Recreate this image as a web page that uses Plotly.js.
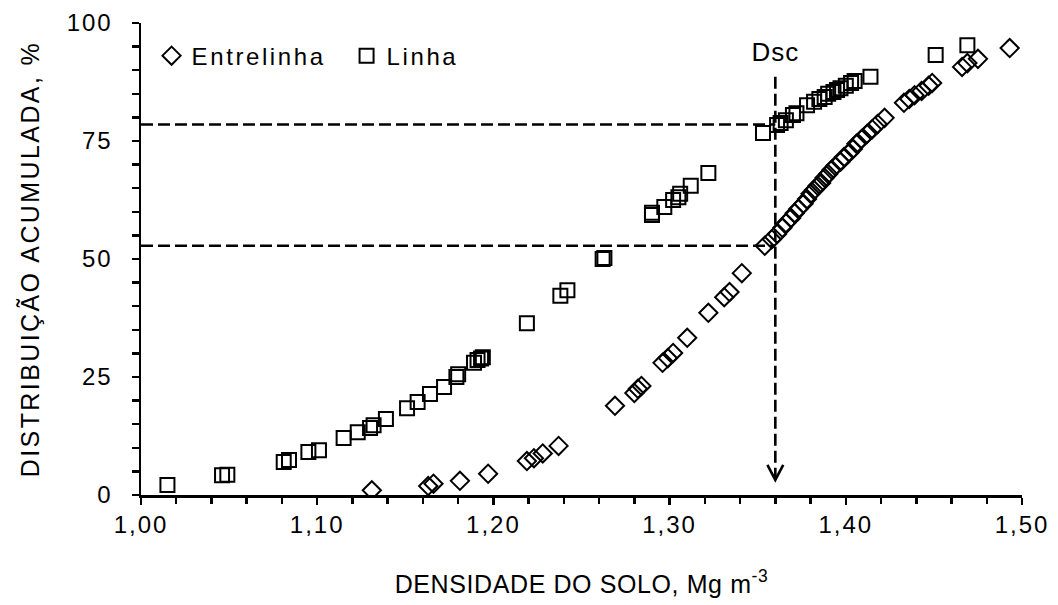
<!DOCTYPE html>
<html><head><meta charset="utf-8">
<script src="https://cdn.plot.ly/plotly-3.0.1.min.js"></script>
<style>
html,body{margin:0;padding:0;background:#fff}
#chart .xtick text, #chart .ytick text {letter-spacing: 2px;}
#chart .legendtext {letter-spacing: 2.6px;}
#chart .g-ytitle text {letter-spacing: 2.4px;}
#chart .g-xtitle text {letter-spacing: 0.6px;}
#chart .annotation-text {letter-spacing: 1px;}
</style>
</head><body><div id="chart" style="width:1058px;height:605px"></div>
<script>
// Entrelinha (diamonds)
const entrelinhaX = [1.131,1.163,1.166,1.181,1.197,1.219,1.223,1.228,1.237,
  1.269,1.280,1.282,1.284,1.296,1.299,1.302,1.310,1.322,1.331,1.334,1.341,
  1.354,1.358,1.361,1.364,1.366,1.369,1.371,1.373,1.376,1.378,1.380,1.382,1.384,1.386,1.388,1.390,1.392,1.394,1.397,1.399,1.402,1.404,1.406,1.409,1.412,1.415,1.418,1.422,
  1.433,1.436,1.439,1.443,1.447,1.449,1.466,1.469,1.475,1.493];
const entrelinhaY = [1.0,1.9,2.4,3.0,4.5,7.2,7.8,8.8,10.4,
  18.9,21.6,22.5,23.1,28.0,29.0,30.1,33.3,38.6,41.9,43.0,47.0,
  52.8,54.2,55.3,56.6,57.6,58.7,59.7,60.6,61.7,62.7,63.8,64.6,65.5,66.1,67.2,68.0,68.9,69.7,70.6,71.6,72.5,73.3,74.4,75.4,76.5,77.5,78.6,79.9,
  83.1,83.9,84.7,85.6,86.7,87.3,90.7,91.5,92.4,94.7];
// Linha (squares)
const linhaX = [1.015,1.046,1.049,1.081,1.084,1.095,1.101,1.115,1.123,1.130,1.132,1.139,1.151,1.157,1.164,1.172,1.179,1.180,1.189,1.191,1.193,1.194,
  1.219,1.238,1.242,1.262,1.263,1.290,1.290,1.297,1.302,1.305,1.306,1.312,1.322,
  1.353,1.361,1.363,1.366,1.370,1.372,1.378,1.382,1.385,1.388,1.390,1.393,1.395,1.397,1.400,1.403,1.405,1.414,1.451,1.469];
const linhaY = [2.1,4.2,4.3,7.0,7.4,9.1,9.5,12.1,13.3,14.2,14.8,16.1,18.4,19.7,21.4,22.9,25.0,25.6,28.0,28.6,28.9,29.2,
  36.4,42.2,43.4,50.0,50.2,59.3,59.8,61.0,62.5,63.1,63.8,65.5,68.2,
  76.7,78.4,78.8,79.4,80.5,80.9,82.6,83.3,83.9,84.3,85.0,85.4,85.8,86.2,86.7,87.3,87.7,88.6,93.2,95.3];

const xTickVals = [1.0,1.1,1.2,1.3,1.4,1.5];
const xTickText = ["1,00","1,10","1,20","1,30","1,40","1,50"];
const yTickVals = [0,25,50,75,100];

// Reference lines (Dsc)
const dscX = 1.36;
const dscLinhaY = 78.5;
const dscEntreY = 52.8;
const dscTopY = 88.6;
const arrowTipY = 3.2;
const arrowArmDY = 3.2;
const arrowArmDX = 0.0045;
const dscLabelY = 93.9;
const xMin = 1.0;

const font = "Liberation Sans, Arial, sans-serif";
const dashLine = {color:"#000", width:2.6, dash:"12px,5px"};

const traces = [
  {x: entrelinhaX, y: entrelinhaY, name: "Entrelinha", type: "scatter", mode: "markers",
   marker: {symbol: "diamond-open", size: 14, color: "#000", line: {width: 2, color: "#000"}}},
  {x: linhaX, y: linhaY, name: "Linha", type: "scatter", mode: "markers",
   marker: {symbol: "square-open", size: 14, color: "#000", line: {width: 2, color: "#000"}}}
];

const layout = {
  width: 1058, height: 605,
  margin: {l: 141, r: 36, t: 23, b: 110},
  paper_bgcolor: "#fff", plot_bgcolor: "#fff",
  font: {family: font, size: 24, color: "#000"},
  separators: ",.",
  showlegend: true,
  legend: {orientation: "h", x: 0.012, xanchor: "left", y: 0.93, yanchor: "middle",
           font: {family: font, size: 24, color: "#000"}, bgcolor: "rgba(0,0,0,0)",
           itemwidth: 30, tracegroupgap: 0, entrywidth: 150, entrywidthmode: "pixels"},
  xaxis: {range: [1.0, 1.5], tickvals: xTickVals, ticktext: xTickText,
          showgrid: false, zeroline: false, showline: true, linecolor: "#000", linewidth: 2.5,
          ticks: "outside", ticklen: 7, tickwidth: 2.5, tickcolor: "#000",
          minor: {dtick: 0.02, tick0: 1.0, ticks: "outside", ticklen: 6, tickwidth: 2.5, tickcolor: "#000", showgrid: false},
          tickfont: {family: font, size: 24, color: "#000"},
          title: {text: "DENSIDADE DO SOLO, Mg m<sup>-3</sup>", font: {family: font, size: 25, color: "#000"}, standoff: 38}},
  yaxis: {range: [0, 100], tickvals: yTickVals,
          showgrid: false, zeroline: false, showline: true, linecolor: "#000", linewidth: 2.5,
          ticks: "outside", ticklen: 7, tickwidth: 2.5, tickcolor: "#000", ticklabelstandoff: 14,
          minor: {dtick: 5, tick0: 0, ticks: "outside", ticklen: 7, tickwidth: 2.5, tickcolor: "#000", showgrid: false},
          tickfont: {family: font, size: 24, color: "#000"},
          title: {text: "DISTRIBUIÇÃO ACUMULADA, %", font: {family: font, size: 25, color: "#000"}, standoff: 26}},
  shapes: [
    {type: "line", xref: "x", yref: "y", x0: xMin, x1: dscX, y0: dscLinhaY, y1: dscLinhaY, line: dashLine},
    {type: "line", xref: "x", yref: "y", x0: xMin, x1: dscX, y0: dscEntreY, y1: dscEntreY, line: dashLine},
    {type: "line", xref: "x", yref: "y", x0: dscX, x1: dscX, y0: dscTopY, y1: arrowTipY, line: dashLine},
    {type: "path", xref: "x", yref: "y",
     path: `M ${dscX - arrowArmDX},${arrowTipY + arrowArmDY} L ${dscX},${arrowTipY} L ${dscX + arrowArmDX},${arrowTipY + arrowArmDY}`,
     line: {color: "#000", width: 2.6}}
  ],
  annotations: [
    {x: dscX, y: dscLabelY, xref: "x", yref: "y", text: "Dsc", showarrow: false,
     font: {family: font, size: 26, color: "#000"}}
  ]
};

Plotly.newPlot("chart", traces, layout, {displayModeBar: false, staticPlot: true});
</script>
</body></html>
